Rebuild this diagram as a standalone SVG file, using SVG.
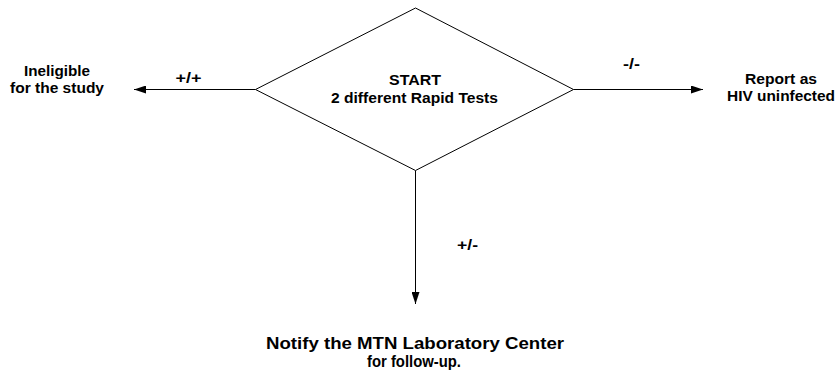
<svg xmlns="http://www.w3.org/2000/svg" width="838" height="378" viewBox="0 0 838 378">
<defs>
<style>
text{font-family:"Liberation Sans",Arial,sans-serif;font-weight:bold;font-size:15px;fill:#000;text-anchor:middle}
.big{font-size:16px}
.shape{fill:#fff;stroke:#000;stroke-width:1}
.conn{stroke:#000;stroke-width:1;fill:none}
</style>
<marker id="arr" viewBox="0 0 12 8" refX="12" refY="4" markerWidth="12" markerHeight="8" markerUnits="userSpaceOnUse" orient="auto">
<path d="M0,0 L12,4 L0,8 Z" fill="#000"/>
</marker>
</defs>
<rect width="838" height="378" fill="#fff"/>
<g id="connectors">
<line class="conn" x1="255.5" y1="89.5" x2="134" y2="89.5" marker-end="url(#arr)"/>
<line class="conn" x1="573.5" y1="89.5" x2="703" y2="89.5" marker-end="url(#arr)"/>
<line class="conn" x1="415.5" y1="170.5" x2="415.5" y2="304" marker-end="url(#arr)"/>
<text x="188.5" y="83" textLength="26" lengthAdjust="spacingAndGlyphs">+/+</text>
<text x="631.5" y="69" textLength="17" lengthAdjust="spacingAndGlyphs">-/-</text>
<text x="467.5" y="250" textLength="21" lengthAdjust="spacingAndGlyphs">+/-</text>
</g>
<g id="start">
<polygon class="shape" points="415.5,8 573.5,89.5 415.5,170.5 255.5,89.5"/>
<text x="415" y="85" textLength="52" lengthAdjust="spacingAndGlyphs">START</text>
<text x="414.5" y="103" textLength="167" lengthAdjust="spacingAndGlyphs">2 different Rapid Tests</text>
</g>
<g id="ineligible">
<text x="57" y="75.5" textLength="66" lengthAdjust="spacingAndGlyphs">Ineligible</text>
<text x="57" y="92.5" textLength="94" lengthAdjust="spacingAndGlyphs">for the study</text>
</g>
<g id="report">
<text x="781" y="84" textLength="72" lengthAdjust="spacingAndGlyphs">Report as</text>
<text x="781" y="101" textLength="108" lengthAdjust="spacingAndGlyphs">HIV uninfected</text>
</g>
<g id="notify">
<text class="big" x="415" y="349" textLength="298" lengthAdjust="spacingAndGlyphs">Notify the MTN Laboratory Center</text>
<text class="big" x="414" y="366.5" textLength="94" lengthAdjust="spacingAndGlyphs">for follow-up.</text>
</g>
</svg>
